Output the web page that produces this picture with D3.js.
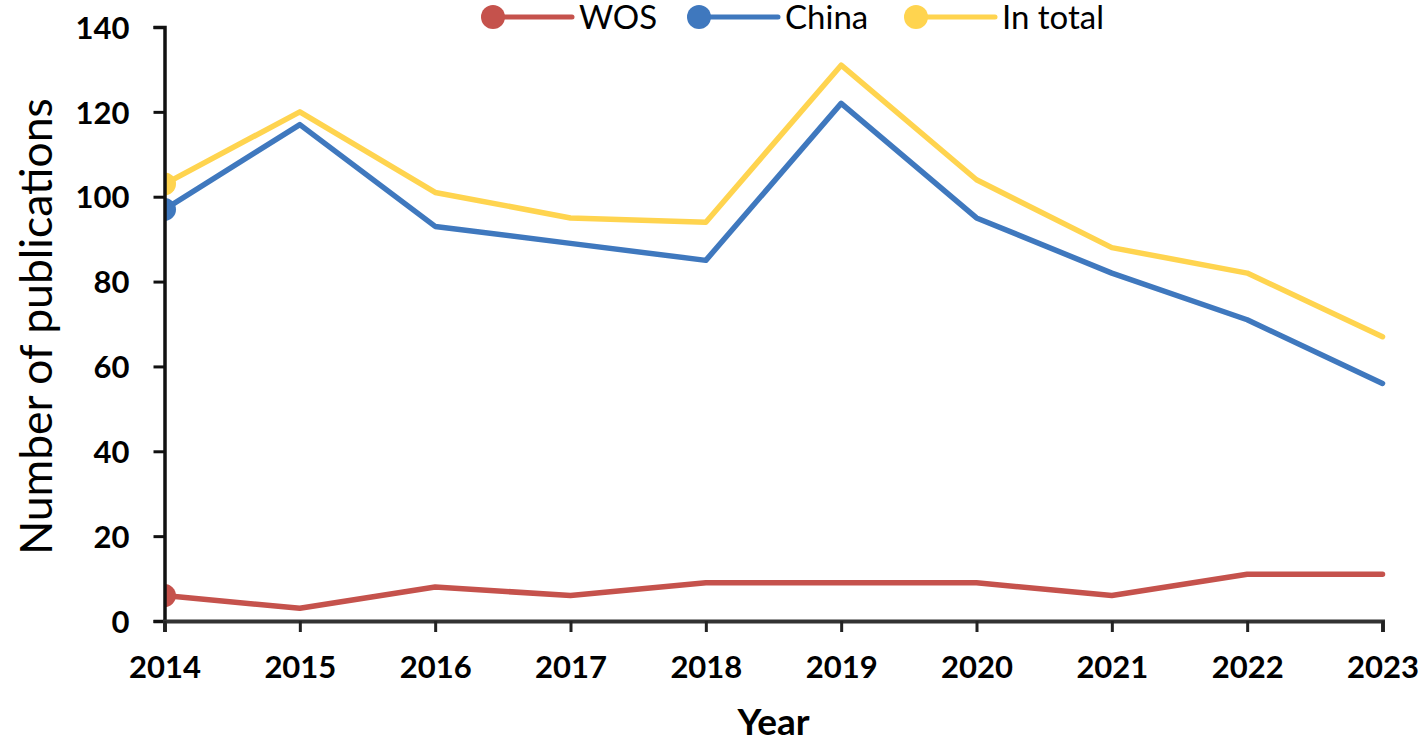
<!DOCTYPE html>
<html>
<head>
<meta charset="utf-8">
<script src="https://cdn.jsdelivr.net/npm/d3@7"></script>
<style>
  body { margin: 0; background: #fff; }
  text { font-family: Lato, "Open Sans", sans-serif; fill: #000; }
</style>
</head>
<body>
<div id="chart"></div>
<script>
const years = [2014, 2015, 2016, 2017, 2018, 2019, 2020, 2021, 2022, 2023];
const wos = [6, 3, 8, 6, 9, 9, 9, 6, 11, 11];
const china = [97, 117, 93, 89, 85, 122, 95, 82, 71, 56];
const inTotal = [103, 120, 101, 95, 94, 131, 104, 88, 82, 67];
const seriesNames = ['WOS', 'China', 'In total'];
const yTicks = [0, 20, 40, 60, 80, 100, 120, 140];

const colors = ['#C5524C', '#3F78BE', '#FFD44F'];
const series = [wos, china, inTotal].map((values, i) => ({
  name: seriesNames[i],
  color: colors[i],
  values: values.map((v, j) => ({year: years[j], value: v}))
}));

const width = 1421;
const height = 737;
const marginLeft = 164.5;
const marginRight = 38.5;
const marginTop = 27;
const marginBottom = 116;

const x = d3.scalePoint()
  .domain(years)
  .range([marginLeft, width - marginRight]);

const y = d3.scaleLinear()
  .domain([0, 140])
  .range([height - marginBottom, marginTop]);

const svg = d3.select('#chart').append('svg')
  .attr('width', width)
  .attr('height', height)
  .attr('viewBox', [0, 0, width, height]);

svg.append('clipPath')
  .attr('id', 'plot-clip')
  .append('rect')
    .attr('x', marginLeft)
    .attr('y', 0)
    .attr('width', width - marginLeft)
    .attr('height', height - marginBottom + 10);

const line = d3.line()
  .x((d) => x(d.year))
  .y((d) => y(d.value));

const plot = svg.append('g').attr('clip-path', 'url(#plot-clip)');

plot.selectAll('path.series')
  .data(series)
  .join('path')
    .attr('class', 'series')
    .attr('fill', 'none')
    .attr('stroke', (d) => d.color)
    .attr('stroke-width', 5.5)
    .attr('stroke-linejoin', 'round')
    .attr('stroke-linecap', 'round')
    .attr('d', (d) => line(d.values));

// only the first point gets a marker
plot.selectAll('circle.first')
  .data(series)
  .join('circle')
    .attr('class', 'first')
    .attr('cx', (d) => x(d.values[0].year))
    .attr('cy', (d) => y(d.values[0].value))
    .attr('r', 11.5)
    .attr('fill', (d) => d.color);

// axes
svg.append('g')
  .attr('class', 'axis y')
  .attr('transform', `translate(${marginLeft}, 0)`)
  .call(d3.axisLeft(y).tickValues(yTicks).tickSize(11).tickPadding(24).tickFormat(d3.format('d')))
  .call((g) => g.select('.domain').attr('stroke', '#111').attr('stroke-width', 3.5))
  .call((g) => g.selectAll('.tick line').attr('stroke', '#111').attr('stroke-width', 3))
  .call((g) => g.selectAll('.tick text')
    .attr('font-size', 31).attr('font-weight', 700).attr('dy', '0.36em')
    .style('font-family', 'Lato, sans-serif'));

svg.append('g')
  .attr('class', 'axis x')
  .attr('transform', `translate(0, ${height - marginBottom})`)
  .call(d3.axisBottom(x).tickSize(11).tickPadding(24))
  .call((g) => g.select('.domain').attr('stroke', '#333').attr('stroke-width', 4))
  .call((g) => g.selectAll('.tick line').attr('stroke', '#222').attr('stroke-width', 3))
  .call((g) => g.selectAll('.tick text')
    .attr('font-size', 31).attr('font-weight', 700)
    .style('font-family', 'Lato, sans-serif'));

// axis titles
svg.append('text')
  .attr('x', (marginLeft + width - marginRight) / 2)
  .attr('y', 735)
  .attr('text-anchor', 'middle')
  .attr('font-size', 37)
  .attr('font-weight', 700)
  .text('Year');

svg.append('text')
  .attr('transform', `translate(52, 326.5) rotate(-90)`)
  .attr('text-anchor', 'middle')
  .attr('font-size', 44.5)
  .text('Number of publications');

// legend
const legendX = [493, 699, 916];
const legend = svg.append('g').attr('class', 'legend');
const item = legend.selectAll('g')
  .data(series)
  .join('g')
    .attr('transform', (d, i) => `translate(${legendX[i]}, 17)`);

item.append('line')
  .attr('x1', 0)
  .attr('x2', 79)
  .attr('stroke', (d) => d.color)
  .attr('stroke-width', 5)
  .attr('stroke-linecap', 'round');

item.append('circle')
  .attr('r', 12)
  .attr('fill', (d) => d.color);

item.append('text')
  .attr('x', 86)
  .attr('dy', '0.35em')
  .attr('font-size', 33)
  .text((d) => d.name);
</script>
</body>
</html>
